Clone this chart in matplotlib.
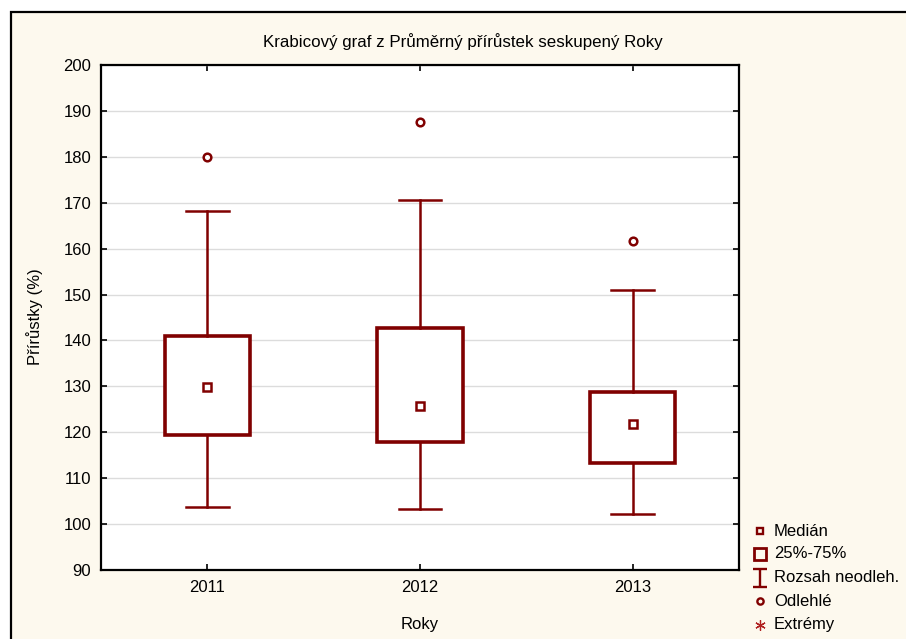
import matplotlib
matplotlib.use("Agg")
import matplotlib.pyplot as plt
from matplotlib.patches import Rectangle
from matplotlib.lines import Line2D
from matplotlib.path import Path

plt.rcParams['font.family'] = ['Liberation Sans', 'DejaVu Sans']

# Data: yearly growth statistics
years = ["2011", "2012", "2013"]
medians = [129.8, 125.8, 121.8]
q1 = [119.5, 117.9, 113.2]
q3 = [141.0, 142.7, 128.7]
whisk_lo = [103.8, 103.3, 102.1]
whisk_hi = [168.1, 170.5, 150.9]
outliers = [[180.0], [187.5], [161.7]]
y_ticks = [90, 100, 110, 120, 130, 140, 150, 160, 170, 180, 190, 200]

title = "Krabicový graf z Průměrný přírůstek seskupený Roky"
xlabel = "Roky"
ylabel = "Přírůstky (%)"
legend_labels = ["Medián", "25%-75%", "Rozsah neodleh.", "Odlehlé", "Extrémy"]

DARK = "#800000"
CREAM = "#fdf9ee"
W, H = 906, 639
FS = 12

fig = plt.figure(figsize=(W / 100, H / 100), dpi=100, facecolor="white")

# outer panel with cream background
fig.add_artist(Rectangle((11 / W, -0.05), 1.1, 1 - 12 / H + 0.05,
                         transform=fig.transFigure, facecolor=CREAM,
                         edgecolor="black", linewidth=1.6, zorder=0))

ax = fig.add_axes([101 / W, 1 - 570 / H, (739 - 101) / W, (570 - 65) / H])
ax.set_facecolor("white")

stats = []
for i, yr in enumerate(years):
    stats.append(dict(label=yr, med=medians[i], q1=q1[i], q3=q3[i],
                      whislo=whisk_lo[i], whishi=whisk_hi[i],
                      fliers=outliers[i]))

pos = list(range(1, len(years) + 1))
ax.bxp(stats, positions=pos, widths=0.4, capwidths=0.2, patch_artist=True,
       boxprops=dict(facecolor="white", edgecolor=DARK, linewidth=2.6),
       whiskerprops=dict(color=DARK, linewidth=1.8),
       capprops=dict(color=DARK, linewidth=1.8),
       medianprops=dict(visible=False),
       flierprops=dict(marker="o", markersize=5.5, markerfacecolor="white",
                       markeredgecolor=DARK, markeredgewidth=1.8),
       zorder=3)
ax.plot(pos, medians, linestyle="none", marker="s", markersize=5.5,
        markerfacecolor="white", markeredgecolor=DARK, markeredgewidth=1.8,
        zorder=4)

ax.set_xlim(0.5, 3.5)
ax.set_ylim(90, 200)
ax.set_yticks(y_ticks)
ax.set_xticks(pos)
ax.set_xticklabels(years)
ax.yaxis.grid(True, color="#dcdcdc", linewidth=1.0)
ax.set_axisbelow(True)
ax.tick_params(direction="in", length=4, width=1.2, top=True, right=True,
               labelsize=FS, colors="black", pad=7)
for sp in ax.spines.values():
    sp.set_linewidth(1.6)
    sp.set_color("black")

fig.text((262 + 663) / 2 / W, 1 - 42 / H, title, ha="center", va="center",
         fontsize=12.2)
fig.text(420 / W, 1 - 625 / H, xlabel, ha="center", va="center", fontsize=FS)
fig.text(35 / W, 1 - 317 / H, ylabel, ha="center", va="center",
         rotation=90, fontsize=FS)

# legend drawn in figure pixels
range_marker = Path([(-0.7, -1), (0.7, -1), (0, -1), (0, 1), (-0.7, 1), (0.7, 1)],
                    [Path.MOVETO, Path.LINETO, Path.MOVETO, Path.LINETO,
                     Path.MOVETO, Path.LINETO])
handles = [
    dict(marker="s", markersize=4.3, markerfacecolor="none", markeredgecolor=DARK, markeredgewidth=1.7),
    dict(marker="s", markersize=8.8, markerfacecolor="none", markeredgecolor=DARK, markeredgewidth=2.0),
    dict(marker=range_marker, markersize=13.5, markerfacecolor="none", markeredgecolor=DARK, markeredgewidth=1.7),
    dict(marker="o", markersize=4.5, markerfacecolor="none", markeredgecolor=DARK, markeredgewidth=1.7),
    dict(marker=(6, 2, 0), markersize=7.5, markerfacecolor="none", markeredgecolor="#b02020", markeredgewidth=0.9),
]
rows = [531, 554, 578, 601, 625]
for y, lab, h in zip(rows, legend_labels, handles):
    fig.add_artist(Line2D([760 / W], [1 - y / H], linestyle="none",
                          transform=fig.transFigure, **h))
    fig.text(774 / W, 1 - y / H, lab, ha="left", va="center", fontsize=FS)

fig.savefig("out.png", dpi=100, facecolor="white")
